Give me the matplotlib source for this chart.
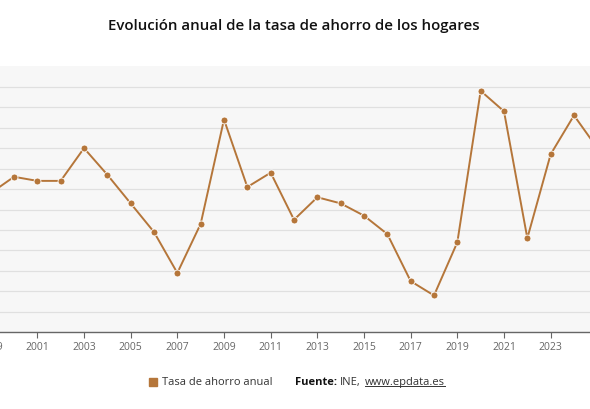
import matplotlib
matplotlib.use('Agg')
import matplotlib.pyplot as plt
from matplotlib.lines import Line2D

# Tasa de ahorro de los hogares (% renta disponible)
years = list(range(1999, 2026))
savings_rate = [9.8, 10.6, 10.4, 10.4, 12.0, 10.7, 9.3, 7.9, 5.9, 8.3,
                13.4, 10.1, 10.8, 8.5, 9.6, 9.3, 8.7, 7.8, 5.5, 4.8,
                7.4, 14.8, 13.8, 7.6, 11.7, 13.6, 12.0]
tick_years = list(range(1999, 2024, 2))
grid_values = list(range(3, 16))

title = 'Evolución anual de la tasa de ahorro de los hogares'
series_name = 'Tasa de ahorro anual'

LINE_COLOR = '#b5763a'
W, H = 590, 410

plt.rcParams['font.family'] = ['Open Sans', 'DejaVu Sans']

fig = plt.figure(figsize=(W / 100, H / 100), dpi=100)
fig.patch.set_facecolor('white')

# the plot area is wider than the picture, as in the reference crop
left_px, right_px = -21.0, 609.0
top_px, bottom_px = 67.3, 333.3
ax = fig.add_axes([left_px / W, 1 - bottom_px / H,
                   (right_px - left_px) / W, (bottom_px - top_px) / H])
ax.set_facecolor('#f7f7f7')

ax.plot(years, savings_rate, color=LINE_COLOR, lw=1.4, marker='o',
        markersize=5, markerfacecolor=LINE_COLOR, markeredgecolor='white',
        markeredgewidth=0.6, zorder=3, clip_on=False)

ax.set_xlim(1998.5, 2025.5)
ax.set_ylim(3, 16)
ax.set_xticks(tick_years)
ax.set_xticklabels([str(y) for y in tick_years])
ax.set_yticks(grid_values)
ax.set_yticklabels([])
ax.tick_params(axis='y', length=0)
ax.tick_params(axis='x', length=4, width=0.8, color='#666666',
               labelcolor='#666666', labelsize=7.5, pad=2.5)
ax.grid(axis='y', color='#e0e0e0', lw=0.9)
ax.set_axisbelow(True)
for side in ['top', 'left', 'right']:
    ax.spines[side].set_visible(False)
ax.spines['bottom'].set_color('#666666')
ax.spines['bottom'].set_linewidth(1.0)

fig.text(294 / W, 1 - 26 / H, title, ha='center', va='center',
         fontsize=10.8, fontweight='semibold', color='#111111')

# legend + source line
ly = 1 - 382.5 / H
fig.add_artist(Line2D([153 / W], [ly], marker='s', markersize=5.5,
                      color=LINE_COLOR, lw=0, transform=fig.transFigure))
fig.text(162 / W, ly, series_name, ha='left', va='center',
         fontsize=8, color='#333333')
t1 = fig.text(295 / W, ly, 'Fuente:', ha='left', va='center',
              fontsize=8, fontweight='bold', color='#111111')
fig.canvas.draw()
r = fig.canvas.get_renderer()
bb = t1.get_window_extent(r)
t2 = fig.text(bb.x1 / W + 3 / W, ly, 'INE,', ha='left', va='center',
              fontsize=8, color='#333333')
bb2 = t2.get_window_extent(r)
t3 = fig.text(bb2.x1 / W + 4 / W, ly, 'www.epdata.es', ha='left', va='center',
              fontsize=8, color='#333333')
bb3 = t3.get_window_extent(r)
uy = (bb3.y0 + 1.5) / H
fig.add_artist(Line2D([bb3.x0 / W, bb3.x1 / W], [uy, uy], color='#333333',
                      lw=0.7, transform=fig.transFigure))

fig.savefig('out.png', dpi=100, facecolor='white')
